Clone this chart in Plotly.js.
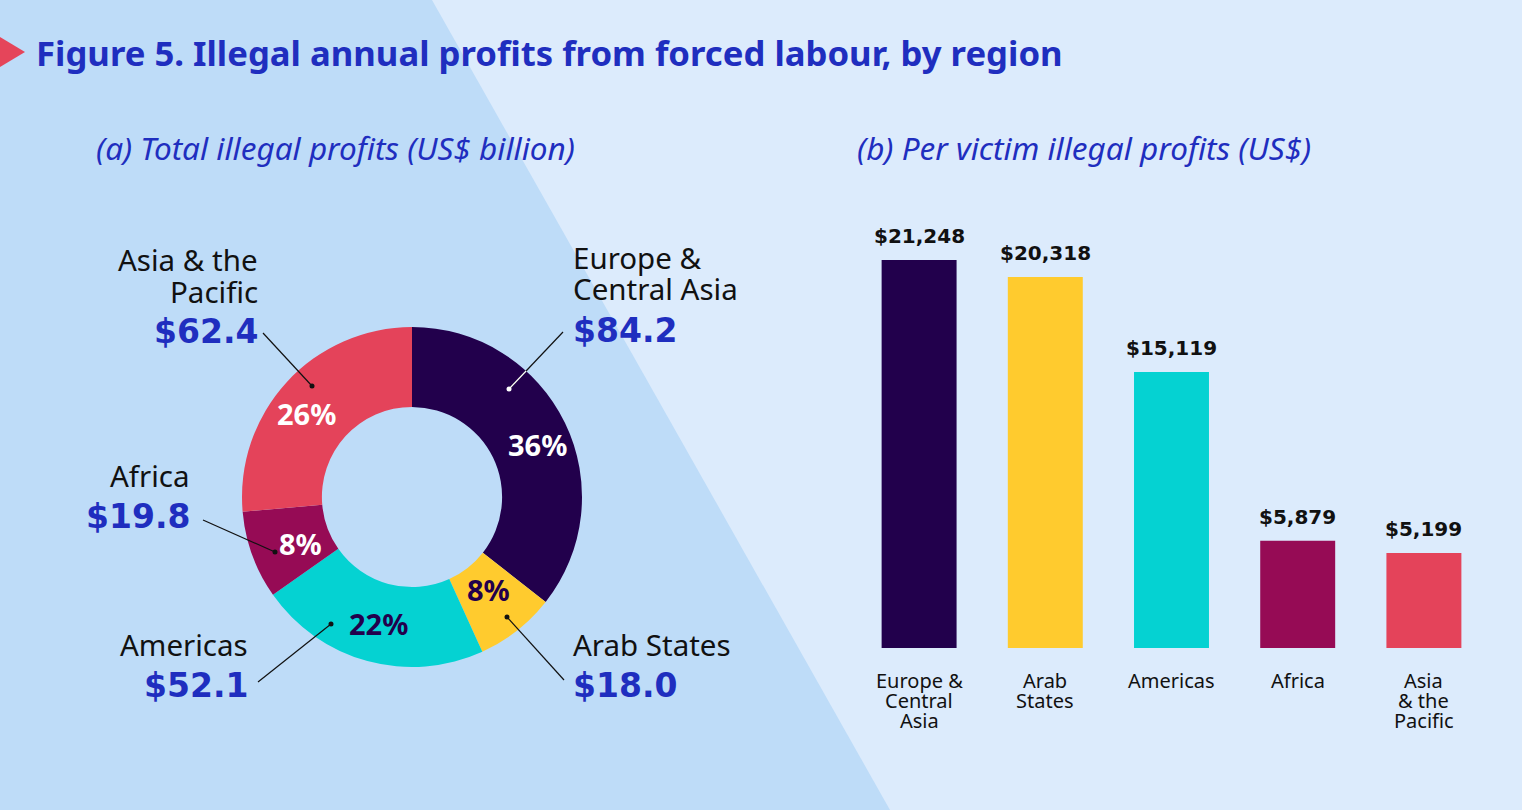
<!DOCTYPE html>
<html>
<head>
<meta charset="utf-8">
<script src="https://cdn.plot.ly/plotly-3.0.1.min.js"></script>
<style>
  html, body { margin: 0; padding: 0; background: #dcebfc; }
  #chart { width: 1522px; height: 810px; }
</style>
</head>
<body>
<div id="chart"></div>
<script>
// data
var regions = ['Europe & Central Asia', 'Arab States', 'Americas', 'Africa', 'Asia & the Pacific'];
var totalProfits = [84.2, 18.0, 52.1, 19.8, 62.4];      // US$ billion
var perVictim = [21248, 20318, 15119, 5879, 5199];      // US$
var donutNames = ['Europe &<br>Central Asia', 'Arab States', 'Americas', 'Africa', 'Asia & the<br>Pacific'];
var barNames = ['Europe &<br>Central<br>Asia', 'Arab<br>States', 'Americas', 'Africa', 'Asia<br>& the<br>Pacific'];

var colors = ['#22004c', '#ffcb2e', '#05d2d2', '#960b55', '#e4435a'];
var pctColors = ['#ffffff', '#22004c', '#22004c', '#ffffff', '#ffffff'];
var blue = '#1f2ebf';
var ink = '#111111';
var wide = 'DejaVu Sans';

var W = 1522, H = 810;
function px(x) { return x / W; }
function py(y) { return 1 - y / H; }

// donut geometry (pixels)
var cx = 412, cy = 497, R = 170;

// callout placement, one per region
var callouts = [
    {dot: [509, 389], end: [563, 332], lx: 574, ly: 257, vy: 330, side: 'left', inner: '#ffffff', pct: [537, 444]},
    {dot: [507, 617], end: [564, 680], lx: 574, ly: 644, vy: 685, side: 'left', pct: [488, 589]},
    {dot: [331, 624], end: [258, 682], lx: 247, ly: 644, vy: 685, side: 'right', pct: [378, 623]},
    {dot: [275, 552], end: [203, 520], lx: 189, ly: 475, vy: 516, side: 'right', pct: [300, 543]},
    {dot: [312, 386], end: [263, 333], lx: 257, ly: 259, vy: 331, side: 'right', pct: [306, 414]}
];

function circleHit(p0, p1) {
    var dx = p1[0] - p0[0], dy = p1[1] - p0[1];
    var fx = p0[0] - cx, fy = p0[1] - cy;
    var a = dx * dx + dy * dy, b = 2 * (fx * dx + fy * dy), c = fx * fx + fy * fy - R * R;
    var t = (-b + Math.sqrt(b * b - 4 * a * c)) / (2 * a);
    return [p0[0] + t * dx, p0[1] + t * dy];
}

var total = totalProfits.reduce(function (s, v) { return s + v; }, 0);

var donut = {
    type: 'pie',
    labels: regions,
    values: totalProfits,
    sort: false,
    direction: 'clockwise',
    rotation: 0,
    hole: 0.53,
    marker: {colors: colors, line: {width: 0}},
    textinfo: 'none',
    hoverinfo: 'none',
    domain: {x: [px(cx - R), px(cx + R)], y: [py(cy + R), py(cy - R)]}
};

var bars = {
    type: 'bar',
    x: barNames,
    y: perVictim,
    xaxis: 'x2',
    yaxis: 'y2',
    marker: {color: colors},
    hoverinfo: 'none'
};

var shapes = [
    // darker left panel
    {type: 'path', xref: 'paper', yref: 'paper', layer: 'below',
     path: 'M0,1 L' + px(432) + ',1 L' + px(890) + ',0 L0,0 Z',
     fillcolor: '#bedcf8', line: {width: 0}},
    // title marker
    {type: 'path', xref: 'paper', yref: 'paper',
     path: 'M0,' + py(37) + ' L' + px(25) + ',' + py(52) + ' L0,' + py(67) + ' Z',
     fillcolor: '#e5455a', line: {width: 0}}
];

function note(text, x, y, xanchor, font) {
    return {text: text, xref: 'paper', yref: 'paper', x: x, y: y,
            xanchor: xanchor, yanchor: 'middle', align: xanchor === 'center' ? 'center' : xanchor,
            showarrow: false, font: font};
}

var annotations = [
    note('Figure 5. Illegal annual profits from forced labour, by region',
         px(34), py(52), 'left', {size: 34.7, weight: 700, color: blue}),
    note('(a) Total illegal profits (US$ billion)',
         px(94), py(148), 'left', {size: 31.5, style: 'italic', color: blue}),
    note('(b) Per victim illegal profits (US$)',
         px(855), py(148), 'left', {size: 31.5, style: 'italic', color: blue})
];

callouts.forEach(function (c, i) {
    shapes.push({type: 'line', xref: 'paper', yref: 'paper',
        x0: px(c.dot[0]), y0: py(c.dot[1]), x1: px(c.end[0]), y1: py(c.end[1]),
        line: {color: '#111111', width: 1.2}});
    var dotCol = '#111111';
    if (c.inner) {
        var hit = circleHit(c.dot, c.end);
        shapes.push({type: 'line', xref: 'paper', yref: 'paper',
            x0: px(c.dot[0]), y0: py(c.dot[1]), x1: px(hit[0]), y1: py(hit[1]),
            line: {color: c.inner, width: 1.2}});
        dotCol = c.inner;
    }
    shapes.push({type: 'circle', xref: 'paper', yref: 'paper',
        x0: px(c.dot[0] - 2.5), x1: px(c.dot[0] + 2.5),
        y0: py(c.dot[1] + 2.5), y1: py(c.dot[1] - 2.5),
        fillcolor: dotCol, line: {width: 0}});

    var tx = c.side === 'left' ? c.lx - 3 : c.lx + 3;
    donutNames[i].split('<br>').forEach(function (line, j) {
        annotations.push(note(line, px(tx), py(c.ly + 32 * j), c.side,
            {size: 29.5, color: ink}));
    });
    annotations.push(note('$' + totalProfits[i].toFixed(1), px(tx), py(c.vy), c.side,
        {family: wide, size: 33, weight: 700, color: blue}));

    annotations.push(note(Math.round(totalProfits[i] / total * 100) + '%',
        px(c.pct[0]), py(c.pct[1]), 'center',
        {size: 29, weight: 700, color: pctColors[i]}));
});

// bar values and category labels
barNames.forEach(function (name, i) {
    annotations.push({text: '$' + perVictim[i].toLocaleString('en-US'),
        xref: 'x2', yref: 'y2', x: name, y: perVictim[i],
        xanchor: 'center', yanchor: 'bottom', yshift: 10, showarrow: false,
        font: {family: wide, size: 20, weight: 700, color: ink}});
    name.split('<br>').forEach(function (line, j) {
        var a = note(line, name, py(680 + 20 * j), 'center', {size: 20, color: ink});
        a.xref = 'x2';
        annotations.push(a);
    });
});

var layout = {
    width: W,
    height: H,
    margin: {l: 0, r: 0, t: 0, b: 0},
    paper_bgcolor: '#dcebfc',
    plot_bgcolor: 'rgba(0,0,0,0)',
    showlegend: false,
    font: {family: 'Noto Sans', color: ink},
    bargap: 0.406,
    xaxis2: {domain: [px(856), px(1487)], anchor: 'y2', range: [-0.5, 4.5],
             autorange: false, showticklabels: false,
             showgrid: false, zeroline: false, showline: false, ticks: ''},
    yaxis2: {domain: [py(648), py(648 - 22000 * 388 / 21248)], anchor: 'x2',
             range: [0, 22000], autorange: false, visible: false,
             showgrid: false, zeroline: false},
    shapes: shapes,
    annotations: annotations
};

Plotly.newPlot('chart', [donut, bars], layout, {staticPlot: true, displayModeBar: false});
</script>
</body>
</html>
